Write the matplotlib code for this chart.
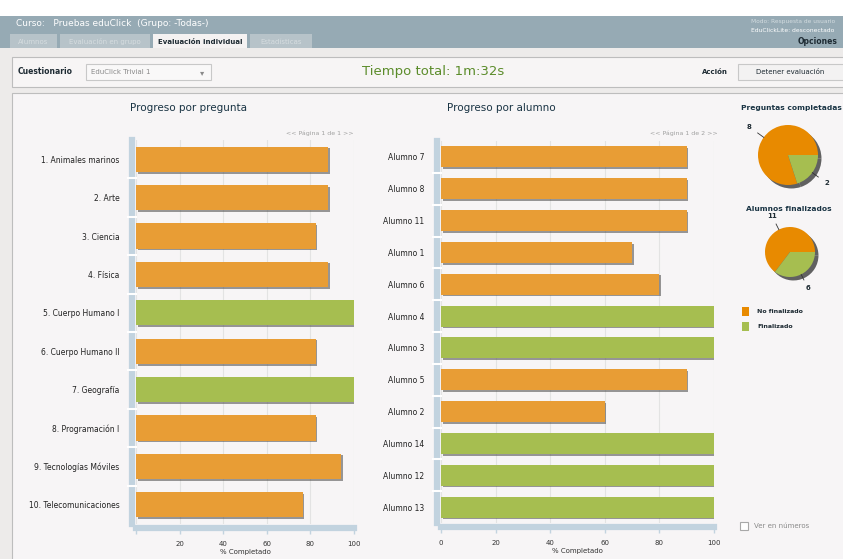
import matplotlib.pyplot as plt
import matplotlib.patches as mpatches
import matplotlib.patheffects as pe
import numpy as np

preguntas = ["1. Animales marinos", "2. Arte", "3. Ciencia", "4. Física", "5. Cuerpo Humano I",
             "6. Cuerpo Humano II", "7. Geografía", "8. Programación I",
             "9. Tecnologías Móviles", "10. Telecomunicaciones"]
progreso_preguntas = [88.2, 88.2, 82.4, 88.2, 100, 82.4, 100, 82.4, 94.1, 76.5]

alumnos = ["Alumno 7", "Alumno 8", "Alumno 11", "Alumno 1", "Alumno 6", "Alumno 4",
           "Alumno 3", "Alumno 5", "Alumno 2", "Alumno 14", "Alumno 12", "Alumno 13"]
progreso_alumnos = [90, 90, 90, 70, 80, 100, 100, 90, 60, 100, 100, 100]

estados = ["No finalizado", "Finalizado"]
preguntas_completadas = [8, 2]
alumnos_finalizados = [11, 6]

ticks = [0, 20, 40, 60, 80, 100]

W, H = 843, 559
naranja = "#E89D35"
verde = "#A6BE50"
naranja_pie = "#E88A00"
azul_eje = "#C2D3DF"
titulo_col = "#1A3444"

fig = plt.figure(figsize=(W / 100, H / 100), dpi=100)
fig.patch.set_facecolor("white")

# fondo de la pagina en coordenadas de pixel
bg = fig.add_axes([0, 0, 1, 1])
bg.set_xlim(0, W)
bg.set_ylim(H, 0)
bg.axis("off")

def rect(x0, y0, x1, y1, fc, ec="none", lw=0.8, z=1):
    bg.add_patch(mpatches.Rectangle((x0, y0), x1 - x0, y1 - y0, facecolor=fc,
                                    edgecolor=ec, linewidth=lw, zorder=z))

rect(0, 48, W, H, "#EDEBEA")
rect(0, 16, W, 48, "#96AAB4")
bg.text(16, 24, "Curso:   Pruebas eduClick  (Grupo: -Todas-)", color="white",
        fontsize=6.5, va="center")

tabs = [("Alumnos", 10, 57), ("Evaluación en grupo", 60, 150),
        ("Evaluación individual", 153, 247), ("Estadísticas", 250, 312)]
for nombre, x0, x1 in tabs:
    activo = nombre == "Evaluación individual"
    rect(x0, 34, x1, 48, "#F4F2F2" if activo else "#B7C3C9", z=2)
    bg.text((x0 + x1) / 2, 41.5, nombre, ha="center", va="center", fontsize=5,
            color="#1E2B33" if activo else "#D6DDE0",
            fontweight="bold" if activo else "normal", zorder=3)

bg.text(751, 21, "Modo: Respuesta de usuario", color="#D3DCE0", fontsize=4.2, va="center")
bg.text(751, 31, "EduClickLite: desconectado", color="white", fontsize=4.3, va="center")
bg.text(798, 41, "Opciones", color="#1E2B33", fontsize=5.5, fontweight="bold", va="center")

# barra de herramientas
rect(12, 57, W + 2, 87, "#F7F5F5", "#BDBDBD", z=2)
bg.text(18, 72, "Cuestionario", fontsize=5.5, fontweight="bold", color="#1E2B33",
        va="center", zorder=3)
rect(86, 64, 211, 80, "#F9F8F8", "#C8C8C8", z=3)
bg.text(91, 72, "EduClick Trivial 1", fontsize=5, color="#8A8A8A", va="center", zorder=4)
bg.text(202, 72.5, "▾", fontsize=6, color="#8A8A8A", va="center", ha="center", zorder=4)
bg.text(433, 72, "Tiempo total: 1m:32s", fontsize=9.5, color="#5B8C2A", ha="center",
        va="center", zorder=3)
bg.text(728, 72, "Acción", fontsize=5, color="#1E2B33", fontweight="bold", ha="right",
        va="center", zorder=3)
rect(738, 64, W + 2, 80, "#F3F2F2", "#C8C8C8", z=3)
bg.text(790, 72, "Detener evaluación", fontsize=5, color="#1E2B33", ha="center",
        va="center", zorder=4)

# panel principal
rect(12, 93, W + 2, H + 2, "#F7F5F6", "#BDBDBD", z=2)

bg.text(189, 108, "Progreso por pregunta", fontsize=7.5, color=titulo_col, ha="center",
        va="center", zorder=3)
bg.text(501, 108, "Progreso por alumno", fontsize=7.5, color=titulo_col, ha="center",
        va="center", zorder=3)
bg.text(353, 133, "<< Página 1 de 1 >>", fontsize=4.5, color="#A0A0A0", ha="right",
        va="center", zorder=3)
bg.text(718, 133, "<< Página 1 de 2 >>", fontsize=4.5, color="#A0A0A0", ha="right",
        va="center", zorder=3)
bg.text(791, 108, "Preguntas completadas", fontsize=5.4, color=titulo_col,
        fontweight="bold", ha="center", va="center", zorder=3)
bg.text(789, 209, "Alumnos finalizados", fontsize=5.4, color=titulo_col,
        fontweight="bold", ha="center", va="center", zorder=3)

# leyenda
for i, (estado, col) in enumerate(zip(estados, [naranja_pie, verde])):
    y = 307 + i * 15
    rect(742, y, 749, y + 9, col, z=3)
    bg.text(757, y + 4.5, estado, fontsize=4.5, fontweight="bold", color="#1E2B33",
            va="center", zorder=3)

rect(740, 522, 748, 530, "white", "#A8A8A8", z=3)
bg.text(754, 526, "Ver en números", fontsize=5, color="#8A8A8A", va="center", zorder=3)

sombra = [pe.SimplePatchShadow(offset=(1.2, -1.2), shadow_rgbFace="#555555", alpha=0.6),
          pe.Normal()]


def barras(px, etiquetas, valores, ocultar_cero):
    l, t, r, b = px
    ax = fig.add_axes([l / W, 1 - b / H, (r - l) / W, (b - t) / H])
    ax.set_facecolor("none")
    y = np.arange(len(valores))
    colores = [verde if v >= 100 else naranja for v in valores]
    bars = ax.barh(y, valores, height=0.66, color=colores, zorder=3)
    for bar in bars:
        bar.set_path_effects(sombra)
    ax.set_xlim(0, 100)
    ax.set_ylim(len(valores) - 0.5, -0.5)
    ax.set_yticks(y)
    ax.set_yticklabels(etiquetas)
    ax.set_xticks(ticks)
    ax.set_xticklabels(["" if (v == 0 and ocultar_cero) else str(v) for v in ticks])
    ax.set_yticks(y[:-1] + 0.5, minor=True)
    ax.tick_params(axis="y", which="major", length=0, pad=9, labelsize=5.5,
                   labelcolor="#222222")
    ax.tick_params(axis="y", which="minor", length=7, width=1.5, color="white",
                   direction="inout")
    ax.tick_params(axis="x", length=4, width=1, color=azul_eje, pad=5, labelsize=5,
                   labelcolor="#333333")
    ax.grid(axis="x", color="#E3E3E3", linewidth=0.8, zorder=0)
    ax.set_axisbelow(False)
    for s in ["top", "right"]:
        ax.spines[s].set_visible(False)
    for s in ["left", "bottom"]:
        ax.spines[s].set_color(azul_eje)
        ax.spines[s].set_linewidth(4.5)
        ax.spines[s].set_position(("outward", 3))
        ax.spines[s].set_zorder(1)
    ax.set_xlabel("% Completado", fontsize=5, color="#333333", labelpad=2)
    return ax


barras((136, 140, 354, 524), preguntas, progreso_preguntas, True)
barras((441, 141, 714, 523), alumnos, progreso_alumnos, False)


def tarta(cx, cy, rad, valores):
    ax = fig.add_axes([(cx - rad) / W, 1 - (cy + rad) / H, 2 * rad / W, 2 * rad / H])
    ax.set_facecolor("none")
    wedges, _ = ax.pie(valores, colors=[naranja_pie, verde], startangle=0, radius=1,
                       wedgeprops=dict(linewidth=0))
    for w in wedges:
        w.set_path_effects([pe.SimplePatchShadow(offset=(2.5, -2.5),
                                                 shadow_rgbFace="#222222", alpha=0.7),
                            pe.Normal()])
    total = sum(valores)
    ini = 0
    for v in valores:
        ang = np.deg2rad(ini + 360 * v / total / 2)
        ini += 360 * v / total
        c, s = np.cos(ang), np.sin(ang)
        ax.plot([1.0 * c, 1.25 * c], [1.0 * s, 1.25 * s], color="#333333", lw=0.6,
                clip_on=False)
        ax.text(1.6 * c, 1.6 * s, str(v), fontsize=5, fontweight="bold",
                color="#1E2B33", ha="center", va="center", clip_on=False)
    ax.set_xlim(-1, 1)
    ax.set_ylim(-1, 1)
    ax.set_aspect("equal")
    ax.axis("off")


tarta(788, 155, 30, preguntas_completadas)
tarta(790, 252, 25, alumnos_finalizados)

fig.savefig("out.png", dpi=100)
